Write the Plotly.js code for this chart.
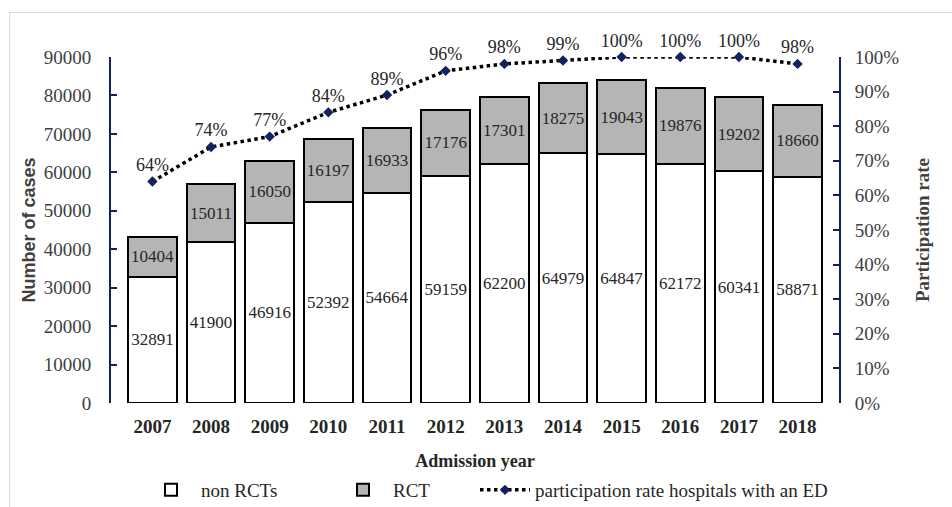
<!DOCTYPE html>
<html>
<head>
<meta charset="utf-8">
<script src="https://cdn.plot.ly/plotly-3.0.1.min.js"></script>
<style>
  html, body { margin: 0; padding: 0; background: #fff; }
  #wrap { position: relative; width: 952px; height: 507px; }
  #chart { width: 952px; height: 507px; }
  #frame { position: absolute; left: 9px; top: 12px; right: 0; bottom: 0;
           border-left: 1px solid #d9d9d9; border-top: 1px solid #d9d9d9; pointer-events: none; }
</style>
</head>
<body>
<div id="wrap"><div id="chart"></div><div id="frame"></div></div>
<script>
const years = ['2007','2008','2009','2010','2011','2012','2013','2014','2015','2016','2017','2018'];
const nonRCTs = [32891, 41900, 46916, 52392, 54664, 59159, 62200, 64979, 64847, 62172, 60341, 58871];
const RCT = [10404, 15011, 16050, 16197, 16933, 17176, 17301, 18275, 19043, 19876, 19202, 18660];
const participationRate = [0.64, 0.74, 0.77, 0.84, 0.89, 0.96, 0.98, 0.99, 1.00, 1.00, 1.00, 0.98];

const serif = '"Liberation Serif", "Times New Roman", serif';
const navy = '#14215e';

const traces = [
  {
    type: 'bar', name: 'non RCTs', x: years, y: nonRCTs, legend: 'legend',
    text: nonRCTs.map(String), textposition: 'inside', insidetextanchor: 'middle',
    textangle: 0, constraintext: 'none',
    textfont: {family: serif, size: 17, color: '#262626'},
    insidetextfont: {family: serif, size: 17, color: '#262626'},
    marker: {color: '#ffffff', line: {color: '#000000', width: 2}},
    hoverinfo: 'x+y'
  },
  {
    type: 'bar', name: 'RCT', x: years, y: RCT, legend: 'legend2',
    text: RCT.map(String), textposition: 'inside', insidetextanchor: 'middle',
    textangle: 0, constraintext: 'none',
    textfont: {family: serif, size: 17, color: '#262626'},
    insidetextfont: {family: serif, size: 17, color: '#262626'},
    marker: {color: '#b5b5b5', line: {color: '#000000', width: 2}},
    hoverinfo: 'x+y'
  },
  {
    type: 'scatter', name: 'participation rate hospitals with an ED', legend: 'legend3',
    x: years, y: participationRate, yaxis: 'y2',
    mode: 'lines+markers+text',
    text: participationRate.map(v => Math.round(v * 100) + '%'),
    textposition: 'top center',
    textfont: {family: serif, size: 18, color: '#262626'},
    line: {color: '#000000', width: 3.5, dash: 'dot'},
    marker: {symbol: 'diamond', size: 8, color: navy},
    cliponaxis: false
  }
];

function legendAt(xpx) {
  return {
    orientation: 'h', xref: 'container', yref: 'container',
    x: xpx / 952, xanchor: 'left', y: 17 / 507, yanchor: 'middle',
    font: {family: serif, size: 19, color: '#262626'},
    itemwidth: 50, bgcolor: 'rgba(0,0,0,0)'
  };
}

const layout = {
  width: 952, height: 507,
  font: {family: serif, size: 18, color: '#262626'},
  margin: {l: 111, r: 113, t: 57, b: 104},
  paper_bgcolor: '#ffffff', plot_bgcolor: '#ffffff',
  barmode: 'stack', bargap: 0.17,
  showlegend: true,
  legend: legendAt(141),
  legend2: legendAt(333),
  legend3: legendAt(475),
  xaxis: {
    type: 'category', showline: false, showgrid: false, zeroline: false, ticks: '',
    ticklabelstandoff: 10,
    tickfont: {family: serif, size: 19, color: '#262626', weight: 'bold'},
    title: {text: 'Admission year', standoff: 26,
            font: {family: serif, size: 18, color: '#262626', weight: 'bold'}},
    automargin: false
  },
  yaxis: {
    range: [0, 90000], dtick: 10000, tickformat: 'd', showgrid: false, zeroline: false,
    showline: true, linecolor: navy, linewidth: 2,
    ticks: 'inside', ticklen: 6, tickcolor: navy, tickwidth: 2,
    ticklabelstandoff: 14,
    tickfont: {family: serif, size: 19, color: '#404040'},
    title: {text: 'Number of cases', standoff: 3,
            font: {family: '"Liberation Sans", Arial, sans-serif', size: 18, color: '#404040', weight: 'bold'}},
    automargin: false
  },
  yaxis2: {
    overlaying: 'y', side: 'right', range: [0, 1], dtick: 0.1, tickformat: '.0%',
    showgrid: false, zeroline: false,
    showline: true, linecolor: navy, linewidth: 2,
    ticks: 'inside', ticklen: 6, tickcolor: navy, tickwidth: 2,
    ticklabelstandoff: 10,
    tickfont: {family: serif, size: 19, color: '#404040'},
    title: {text: 'Participation rate', standoff: 17,
            font: {family: serif, size: 19, color: '#404040', weight: 'bold'}},
    automargin: false
  }
};

Plotly.newPlot('chart', traces, layout, {displayModeBar: false, responsive: false});
</script>
</body>
</html>
